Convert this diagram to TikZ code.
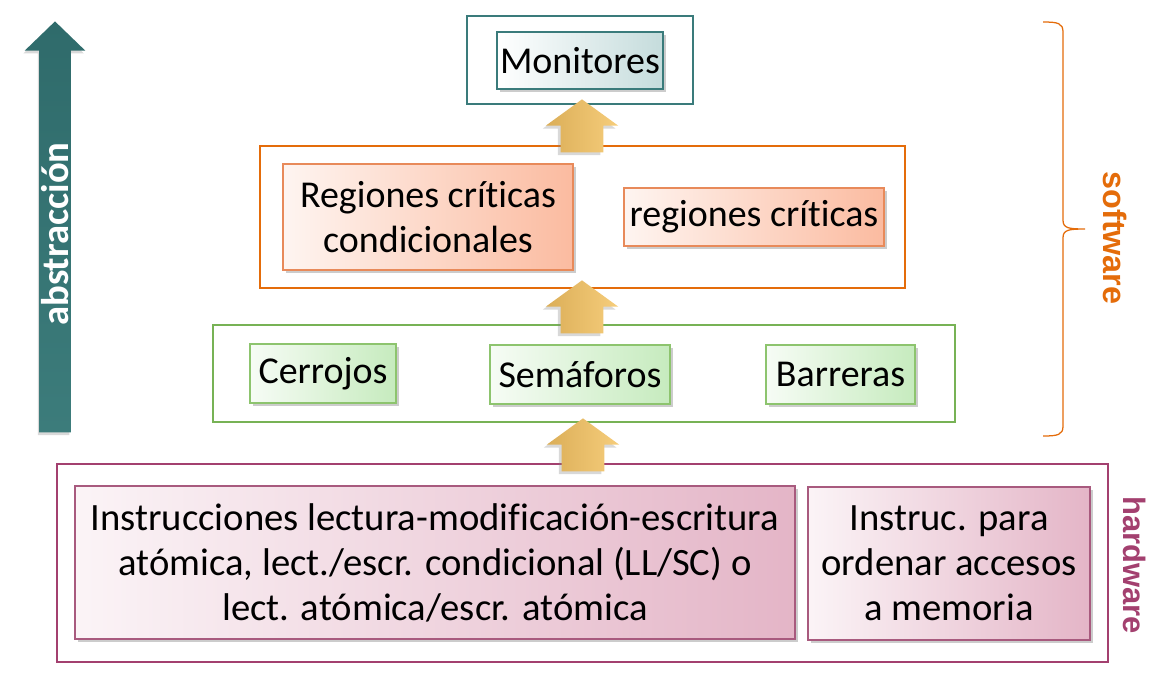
\documentclass[tikz,border=0pt]{standalone}
\usepackage{fontspec}
\setmainfont{Carlito}[Ligatures=NoCommon]
\newfontfamily\arialfont{Liberation Sans}
\usetikzlibrary{shapes.arrows,shadows}
\definecolor{teal700}{HTML}{3A7B7B}
\definecolor{teal200}{HTML}{C5DCDC}
\definecolor{orange600}{HTML}{E46C0A}
\definecolor{orange400}{HTML}{E88A5A}
\definecolor{orange200}{HTML}{FBBBA0}
\definecolor{green600}{HTML}{77B255}
\definecolor{green400}{HTML}{8DC46E}
\definecolor{green200}{HTML}{C6EBBE}
\definecolor{purple600}{HTML}{A3406F}
\definecolor{purple400}{HTML}{A85A7E}
\definecolor{purple200}{HTML}{E4B5C7}
\definecolor{gold300}{HTML}{F6CD7B}
\definecolor{gold600}{HTML}{DBAE58}
\definecolor{teal800}{HTML}{2F6B6B}
\definecolor{teal600}{HTML}{3C7C7B}
\tikzstyle{marco}=[draw, line width=1.4pt, fill=white, inner sep=0pt]
\tikzstyle{caja}=[draw, line width=0.9pt, inner sep=0pt, align=center,
  font=\fontsize{27}{32}\selectfont,
  drop shadow={opacity=0.4, shadow xshift=2pt, shadow yshift=-2pt}]
\tikzstyle{subida}=[single arrow, draw=none, rotate=90, anchor=tip, inner xsep=0pt, inner ysep=0.525cm,
  minimum height=1.325cm, single arrow head extend=0.375cm,
  single arrow tip angle=108, left color=gold600, right color=gold300,
  drop shadow={opacity=0.3, shadow xshift=-2pt, shadow yshift=-2pt}]

\begin{document}
\begin{tikzpicture}
  \useasboundingbox (0,0) rectangle (29,-17.05);
  % niveles
  \node[marco, draw=teal700, minimum width=5.65cm, minimum height=2.2cm] (monfr) at (14.5,-1.5) {};
  \node[caja, draw=teal700, left color=white, right color=teal200, minimum width=4.15cm, minimum height=1.425cm] (mon) at (14.5,-1.5125) {Monitores};
  \node[marco, draw=orange600, minimum width=16.125cm, minimum height=3.55cm] (regfr) at (14.5625,-5.425) {};
  \node[caja, draw=orange400, left color=orange200!15, right color=orange200, minimum width=7.25cm, minimum height=2.65cm] (regcond) at (10.7,-5.425) {Regiones crít\kern0pt icas\\condicionales};
  \node[caja, draw=orange400, left color=orange200!15, right color=orange200, minimum width=6.5cm, minimum height=1.45cm] (reg) at (18.85,-5.425) {regiones crít\kern0pt icas};
  \node[marco, draw=green600, minimum width=18.55cm, minimum height=2.425cm] (basefr) at (14.6,-9.3375) {};
  \node[caja, draw=green400, left color=green200!15, right color=green200, minimum width=3.65cm, minimum height=1.475cm] (cerr) at (8.075,-9.3375) {Cerrojos};
  \node[caja, draw=green400, left color=green200!15, right color=green200, minimum width=4.5cm, minimum height=1.475cm] (sem) at (14.5,-9.3625) {Semáforos};
  \node[caja, draw=green400, left color=green200!15, right color=green200, minimum width=3.725cm, minimum height=1.475cm] (barr) at (21.0125,-9.3625) {Barreras};
  \node[marco, draw=purple600, minimum width=26.275cm, minimum height=4.95cm] (hwfr) at (14.5625,-14.075) {};
  \node[caja, draw=purple400, font=\fontsize{27.5}{32}\selectfont, left color=purple200!15, right color=purple200, minimum width=18cm, minimum height=3.825cm] (instr) at (10.875,-14.0625) {Instrucciones lectura-modificación-escritura\\atómica, lect./escr. condicional (LL/SC) o\\lect. atómica/escr. atómica};
  \node[caja, draw=purple400, font=\fontsize{27.5}{32}\selectfont, left color=purple200!15, right color=purple200, minimum width=7.05cm, minimum height=3.825cm] (orden) at (23.725,-14.0875) {Instruc. para\\ordenar accesos\\a memoria};
  % flechas entre niveles
  \node[subida] (f1) at (14.55,-2.475) {};
  \node[subida] (f2) at (14.55,-7.0) {};
  \node[subida] (f3) at (14.575,-10.45) {};
  % abstraccion
  \node[single arrow, rotate=90, anchor=tip, inner xsep=0pt, inner ysep=0.3875cm, draw=none,
    top color=teal800, bottom color=teal600, shading angle=0,
    minimum height=10.275cm, single arrow head extend=0.3625cm,
    single arrow tip angle=92, drop shadow={opacity=0.3, shadow xshift=-1pt, shadow yshift=-2pt}] (abs) at (1.375,-0.525) {};
  \node[rotate=90, text=white, font=\fontsize{27.5}{30}\selectfont\bfseries] (abstxt) at (1.375,-5.85) {abstracción};
  % llave software
  \path[draw=orange600, line width=0.9pt] (26.075,-0.55) .. controls (26.45,-0.55) and (26.575,-0.58) .. (26.575,-0.8)
    -- (26.575,-5.5) .. controls (26.575,-5.7) and (26.7,-5.725) .. (27.125,-5.725)
    .. controls (26.7,-5.725) and (26.575,-5.75) .. (26.575,-5.95)
    -- (26.575,-10.65) .. controls (26.575,-10.87) and (26.45,-10.9) .. (26.075,-10.9);
  \node[rotate=-90, text=orange600, font=\arialfont\fontsize{23}{26}\selectfont\bfseries] (sw) at (27.875,-5.95) {software};
  \node[rotate=-90, text=purple600, font=\arialfont\fontsize{22}{26}\selectfont\bfseries] (hw) at (28.375,-14.125) {hardware};
\end{tikzpicture}
\end{document}
